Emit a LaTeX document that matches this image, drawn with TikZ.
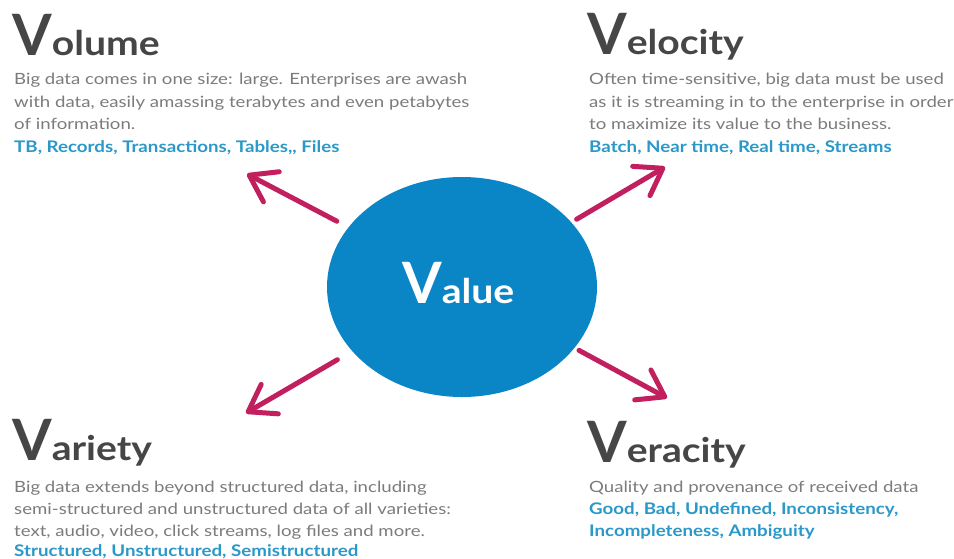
\documentclass[tikz,border=0pt]{standalone}
\usepackage{fontspec}
\setmainfont{Lato}
\newfontfamily\bodyfont[FakeStretch=1.2]{Lato}
\newfontfamily\tagfont[FakeStretch=1.17]{Lato Bold}
\newfontfamily\titlefont[FakeStretch=1.15]{Lato Bold}
\newfontfamily\titleVfont{Lato Bold}
\usetikzlibrary{arrows.meta,shapes.geometric}
\definecolor{titlegray}{HTML}{464646}
\definecolor{bodygray}{HTML}{7C7C7C}
\definecolor{tagblue}{HTML}{2A98C8}
\definecolor{arrowred}{HTML}{C21F5E}
\definecolor{ellblue}{HTML}{0A86C7}
\tikzset{
  titletext/.style={anchor=base west, inner sep=0pt, text=titlegray},
  bodyline/.style={anchor=base west, inner sep=0pt, text=bodygray, font=\bodyfont\fontsize{15.5}{18}\selectfont},
  tagline/.style={anchor=base west, inner sep=0pt, text=tagblue, font=\tagfont\fontsize{16}{18}\selectfont},
  varrow/.style={draw=arrowred, line width=5pt, line cap=round,
    -{Straight Barb[length=25pt, width=34pt, round]}},
}
\newcommand{\bigV}[1]{{\titleVfont\fontsize{57}{57}\selectfont V}{\titlefont\fontsize{34}{34}\selectfont #1}}
\begin{document}
\begin{tikzpicture}[x=1pt,y=-1pt]
\useasboundingbox[fill=white] (0,0) rectangle (954,558);

% central ellipse
\node[ellipse, fill=ellblue, minimum width=270pt, minimum height=220pt, inner sep=0pt] (val) at (462,287) {};
\node[anchor=base west, inner sep=0pt, text=white] (valtext) at (402,303) {\bigV{alue}};

% arrow tips
\coordinate (tipUL) at (247,174);
\coordinate (tipUR) at (665,167);
\coordinate (tipLL) at (246,413);
\coordinate (tipLR) at (667,398);

\draw[varrow, shorten <=13pt] (val) -- (tipUL);
\draw[varrow, shorten <=6pt] (val) -- (tipUR);
\draw[varrow, shorten <=17pt] (val) -- (tipLL);
\draw[varrow, shorten <=5pt] (val) -- (tipLR);

% Volume
\node[titletext] (voltitle) at (12,55) {\bigV{olume}};
\node[bodyline] (vol1) at (14,84) {Big data comes in one size: large. Enterprises are awash};
\node[bodyline] (vol2) at (14,107) {with data, easily amassing terabytes and even petabytes};
\node[bodyline] (vol3) at (14,129) {of information.};
\node[tagline] (voltag) at (14,152) {TB, Records, Transactions, Tables,, Files};

% Velocity
\node[titletext] (veltitle) at (587,54) {\bigV{elocity}};
\node[bodyline] (vel1) at (589,84) {Often time-sensitive, big data must be used};
\node[bodyline] (vel2) at (589,107) {as it is streaming in to the enterprise in order};
\node[bodyline] (vel3) at (589,129) {to maximize its value to the business.};
\node[tagline] (veltag) at (589,152) {Batch, Near time, Real time, Streams};

% Variety
\node[titletext] (vartitle) at (12,460) {\bigV{ariety}};
\node[bodyline] (var1) at (14,492) {Big data extends beyond structured data, including};
\node[bodyline] (var2) at (14,514) {semi-structured and unstructured data of all varieties:};
\node[bodyline] (var3) at (14,536) {text, audio, video, click streams, log files and more.};
\node[tagline] (vartag) at (14,556) {Structured, Unstructured, Semistructured};

% Veracity
\node[titletext] (vertitle) at (587,462) {\bigV{eracity}};
\node[bodyline] (ver1) at (589,492) {Quality and provenance of received data};
\node[tagline] (vertag1) at (589,514) {Good, Bad, Undefined, Inconsistency,};
\node[tagline] (vertag2) at (589,536) {Incompleteness, Ambiguity};
\end{tikzpicture}
\end{document}
